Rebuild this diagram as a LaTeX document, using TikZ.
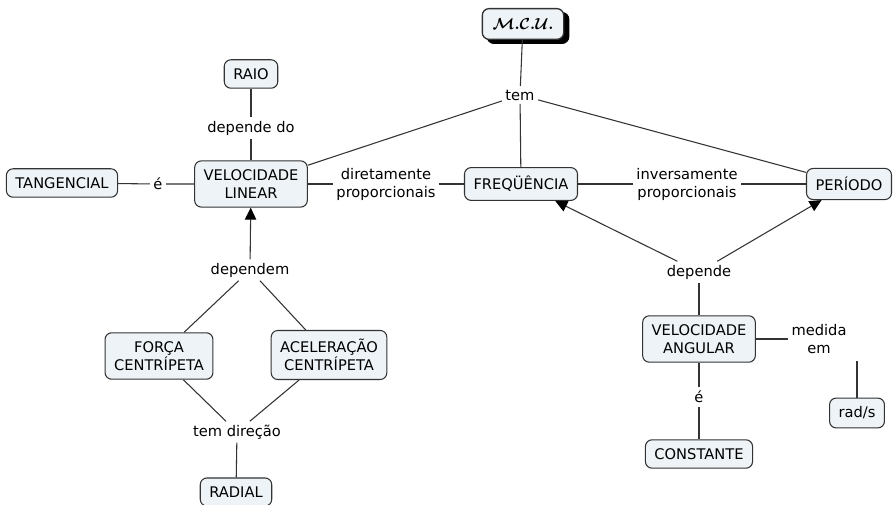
\documentclass[tikz,border=0pt]{standalone}
\usepackage{fontspec}
\setmainfont{DejaVu Sans}
\usetikzlibrary{arrows.meta}

\definecolor{cmapfill}{HTML}{EDF3F6}
\definecolor{cmapline}{HTML}{333333}

\newcommand{\mcutitle}{{\boldmath$\mathcal{M}.\mathcal{C}.\mathcal{U}.$}}

\tikzset{
    concept/.style={draw=cmapline, fill=cmapfill, rounded corners=5pt, line width=0.8pt,
        align=center, inner xsep=6.75pt, inner ysep=6.5pt,
        font=\fontsize{11}{13.5}\selectfont},
    mcubox/.style={concept, line width=1pt, inner xsep=7pt, inner ysep=4pt,
        minimum width=61pt, minimum height=23pt,
        font=\fontsize{12}{14}\selectfont},
    linkword/.style={align=center, inner sep=2.5pt, font=\fontsize{11}{13.5}\selectfont},
    link/.style={draw=cmapline, line width=0.8pt},
    arrowlink/.style={link, -{Triangle[length=9pt,width=8.5pt,color=black]}},
}

\begin{document}
\begin{tikzpicture}[x=0.75pt, y=-0.75pt]
    \useasboundingbox (0,0) rectangle (896,505);

    % Define the positions of the concepts
    \coordinate (mcuPos) at (523, 24);
    \coordinate (raioPos) at (251, 74);
    \coordinate (tangPos) at (62, 183);
    \coordinate (vlinPos) at (251, 184);
    \coordinate (freqPos) at (521, 184);
    \coordinate (perPos) at (849, 184);
    \coordinate (forcaPos) at (159, 356);
    \coordinate (acelPos) at (329, 355);
    \coordinate (radialPos) at (236, 492);
    \coordinate (vangPos) at (699, 339);
    \coordinate (radsPos) at (857, 413);
    \coordinate (constPos) at (699, 454);

    % Draw the concepts
    \node[mcubox, fill=black, draw=black] (mcushadow) at ([shift={(5,4)}]mcuPos) {\phantom{\mcutitle}};
    \node[mcubox] (mcu) at (mcuPos) {\mcutitle};
    \node[concept] (raio) at (raioPos) {RAIO};
    \node[concept] (tang) at (tangPos) {TANGENCIAL};
    \node[concept] (vlin) at (vlinPos) {VELOCIDADE\\LINEAR};
    \node[concept] (freq) at (freqPos) {FREQÜÊNCIA};
    \node[concept] (per) at (perPos) {PERÍODO};
    \node[concept] (forca) at (forcaPos) {FORÇA\\CENTRÍPETA};
    \node[concept] (acel) at (acelPos) {ACELERAÇÃO\\CENTRÍPETA};
    \node[concept] (radial) at (radialPos) {RADIAL};
    \node[concept] (vang) at (vangPos) {VELOCIDADE\\ANGULAR};
    \node[concept] (rads) at (radsPos) {rad/s};
    \node[concept] (const) at (constPos) {CONSTANTE};

    % Draw the linking words
    \node[linkword] (tem) at (520, 95) {tem};
    \node[linkword] (dependedo) at (251, 128) {depende do};
    \node[linkword] (eTang) at (158, 184) {é};
    \node[linkword] (diret) at (386, 184) {diretamente\\proporcionais};
    \node[linkword] (invers) at (687, 184) {inversamente\\proporcionais};
    \node[linkword] (dependem) at (250, 270) {dependem};
    \node[linkword] (depende) at (699, 272) {depende};
    \node[linkword] (temdir) at (237, 432) {tem direção};
    \node[linkword] (medida) at (819, 339) {medida\\em};
    \node[linkword] (eConst) at (699, 397) {é};

    % Draw the lines
    \draw[link] (mcu) -- (tem);
    \draw[link] (tem) -- (vlin);
    \draw[link] (tem) -- (freq);
    \draw[link] (tem) -- (per);
    \draw[link] (raio) -- (dependedo) -- (vlin);
    \draw[link] (vlin) -- (eTang) -- (tang);
    \draw[link] (vlin) -- (diret) -- (freq);
    \draw[link] (freq) -- (invers) -- (per);
    \draw[link] (forca) -- (dependem);
    \draw[link] (acel) -- (dependem);
    \draw[arrowlink] (dependem) -- (vlin);
    \draw[link] (vang) -- (depende);
    \draw[arrowlink] (depende) -- (freq);
    \draw[arrowlink] (depende) -- (per);
    \draw[link] (forca) -- (temdir);
    \draw[link] (acel) -- (temdir);
    \draw[link] (temdir) -- (radial);
    \draw[link] (vang) -- (eConst) -- (const);
    \draw[link] (vang) -- (medida);
    \draw[link] (rads) -- ([yshift=-3pt]rads.north |- medida.south);
\end{tikzpicture}
\end{document}
